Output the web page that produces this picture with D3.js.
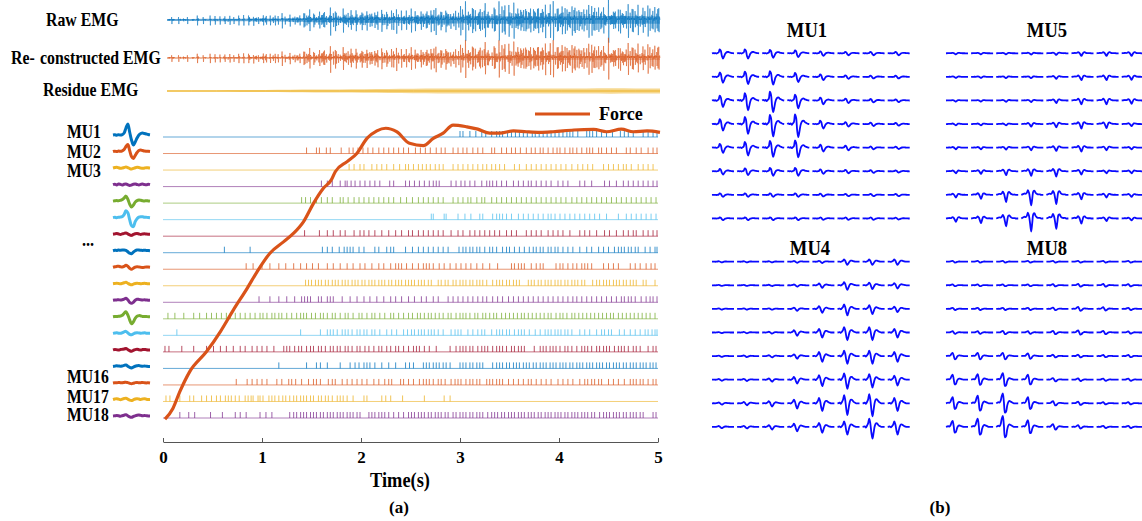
<!DOCTYPE html>
<html><head><meta charset="utf-8">
<script src="https://cdn.jsdelivr.net/npm/d3@7"></script>
<style>
body{margin:0;background:#fff}
svg{display:block}
text{font-family:"Liberation Serif","Times New Roman",serif;font-weight:bold;fill:#000}
</style>
</head><body>
<svg id="chart" width="1142" height="521"></svg>
<script>
// ---------------- DATA ----------------
const muNames = ["MU1","MU2","MU3","MU4","MU5","MU6","MU7","MU8","MU9","MU10","MU11","MU12","MU13","MU14","MU15","MU16","MU17","MU18"];
const palette = ["#0072BD","#D95319","#EDB120","#7E2F8E","#77AC30","#4DBEEE","#A2142F"];
const timeTicks = [0,1,2,3,4,5];

// force (normalised) vs time (s)
const forceTime = [0.02,0.10,0.17,0.27,0.44,0.58,0.71,0.85,0.95,1.08,1.22,1.32,1.42,1.52,1.62,1.70,1.74,1.86,1.96,2.06,2.16,2.25,2.36,2.49,2.63,2.73,2.83,2.93,3.07,3.18,3.30,3.40,3.54,3.67,3.81,3.94,4.15,4.35,4.48,4.63,4.75,4.89,5.02];
const forceValue = [0.003,0.040,0.098,0.167,0.236,0.305,0.379,0.454,0.511,0.575,0.615,0.644,0.684,0.747,0.799,0.828,0.856,0.891,0.920,0.971,0.997,1.006,0.994,0.954,0.946,0.971,0.989,1.017,1.011,1.003,0.989,0.989,0.997,0.994,0.992,0.994,1.000,1.002,0.994,1.003,0.994,0.997,0.992];

// spike times in units of 10 ms
const mu1Spikes = [300,303,310,316,322,326,332,337,340,343,348,352,356,360,364,368,373,376,380,384,388,392,396,400,404,408,411,414,419,428,431,434,438,443,448,454,462,466,470,475,485,490,495,499];
const mu2Spikes = [145,155,158,165,169,180,188,192,197,202,207,212,218,223,228,233,238,243,248,255,260,265,270,276,281,285,293,298,303,307,313,318,323,332,335,342,347,352,356,361,367,372,376,381,384,389,394,398,401,406,411,414,418,423,428,431,434,440,443,448,453,458,468,472,478,483,490,495,499];
const mu3Spikes = [188,193,199,203,211,216,221,226,233,239,245,248,253,258,262,266,270,275,279,283,293,298,303,308,313,318,323,327,332,336,340,345,355,360,367,372,377,382,387,392,397,402,407,413,419,424,429,434,445,450,455,460,465,468,473,480,485,490,495];
const mu4Spikes = [160,166,171,179,184,186,190,194,199,204,209,214,219,229,233,245,249,254,259,264,269,273,276,279,291,296,301,305,310,315,322,327,330,333,337,342,347,354,359,364,369,372,377,382,387,392,399,404,409,421,426,433,446,451,458,465,470,475,480,485,490,495,499];
const mu5Spikes = [140,144,149,155,160,166,171,179,182,187,193,198,203,208,213,218,223,228,233,240,246,252,258,263,268,273,278,283,293,298,303,308,311,317,322,325,332,337,342,347,352,357,362,367,372,377,382,387,392,397,402,407,413,418,423,428,433,438,443,448,453,458,463,468,473,478,483,488,493,498];
const mu6Spikes = [271,273,284,286,298,305,311,320,323,333,337,340,343,347,352,359,364,369,374,379,384,389,392,396,401,406,411,416,421,426,431,436,441,448,460,468,473,478,483,488,493,498];
const mu7Spikes = [143,158,166,172,179,184,193,199,203,208,214,221,228,235,241,248,252,258,263,268,273,278,283,291,298,303,310,315,320,325,330,335,340,347,352,357,367,372,377,382,389,394,399,404,411,421,426,431,438,446,451,458,465,470,475,478,485,490,495,499];
const mu8Spikes = [62,88,161,166,171,178,183,186,189,192,198,203,214,218,226,230,233,245,252,258,263,268,273,278,283,288,299,303,306,310,313,317,320,325,330,333,337,343,347,350,355,360,365,370,374,377,381,384,389,392,396,399,404,409,414,421,428,433,440,445,450,456,460,463,466,470,473,477,480,487,492,497,499];
const mu9Spikes = [84,91,100,108,117,124,132,139,145,151,157,166,172,179,186,192,199,204,211,218,223,230,235,238,241,246,252,258,263,266,269,273,279,284,290,296,301,306,311,317,323,330,338,352,355,359,362,365,372,377,381,384,397,401,404,409,414,418,423,426,429,433,445,450,455,460,472,477,482,488,493,497];
const mu10Spikes = [144,147,150,154,157,160,164,167,171,174,177,181,184,187,191,194,197,201,204,208,211,214,218,221,224,228,231,235,238,241,245,248,251,254,258,261,264,268,271,278,281,285,288,293,296,300,303,306,310,313,317,320,323,327,333,337,340,343,347,350,354,357,360,369,372,375,379,382,386,389,392,396,399,402,406,409,413,416,419,423,426,434,438,441,445,448,451,455,458,461,465,468,472,475,478,485,488,497];
const mu11Spikes = [97,108,117,125,133,140,143,146,149,157,160,166,169,172,181,189,196,203,209,216,223,230,235,241,248,254,261,266,273,278,288,293,298,303,308,313,318,323,327,333,338,343,349,354,359,364,369,374,379,384,389,394,399,404,409,414,418,423,428,433,438,443,448,453,458,463,466,470,473,477,483,488,492,495,499];
const mu12Spikes = [5,12,21,31,37,44,49,54,59,64,68,73,78,83,88,93,98,101,105,110,113,117,120,125,130,135,139,142,145,150,154,159,162,166,171,174,179,184,187,192,198,201,206,211,214,219,224,230,233,238,243,248,252,257,260,264,268,271,275,279,283,288,291,296,300,303,306,310,315,318,323,326,330,334,337,342,346,350,354,358,362,365,369,373,377,381,385,389,392,397,401,404,408,413,416,420,424,428,432,436,440,444,448,452,455,460,464,468,472,476,480,484,488,492,497];
const mu13Spikes = [14,139,159,166,169,172,176,181,184,187,191,196,199,203,206,211,214,219,226,231,236,243,247,251,254,258,261,264,268,271,274,278,283,291,295,298,301,308,313,318,322,325,332,337,340,343,347,350,355,359,362,365,370,376,381,386,389,392,396,399,402,406,409,413,421,426,431,438,443,446,450,453,461,466,472,477,482,487,490,494,497,499];
const mu14Spikes = [2,6,19,31,44,51,58,64,71,78,83,90,95,100,105,112,122,125,128,133,137,140,145,149,152,157,160,164,169,172,176,179,184,187,191,196,199,204,208,213,218,221,226,230,235,238,243,248,253,256,259,264,269,276,290,296,300,303,306,310,313,318,322,325,328,333,337,340,343,347,352,355,359,362,365,375,381,384,387,391,394,397,401,406,409,413,418,423,426,429,433,438,441,445,448,451,456,460,463,466,470,475,478,482,490,495,498];
const mu15Spikes = [117,145,155,159,166,179,189,194,198,203,206,209,214,221,228,235,245,249,253,263,266,269,273,276,279,283,286,290,300,303,306,310,313,317,320,323,333,337,340,343,347,350,354,357,360,364,367,370,374,377,381,384,387,391,394,397,401,404,407,411,414,418,421,424,428,431,434,438,441,444,448,451,455,458,461,465,468,472,475,478,482,485,488,492,495,498];
const mu16Spikes = [74,85,90,95,100,105,115,120,127,130,134,140,147,152,155,159,167,171,174,181,186,191,196,201,206,213,218,224,228,231,240,243,248,253,259,263,266,269,273,278,281,285,291,295,298,301,306,310,313,317,320,327,330,333,337,340,343,349,354,359,364,369,372,377,382,387,392,399,404,409,414,421,426,429,433,436,440,443,450,455,460,466,472,475,478,482,485,490,495,498];
const mu17Spikes = [3,7,17,27,31,39,44,49,54,58,63,66,69,73,77,83,86,89,91,96,98,101,107,110,113,117,121,124,128,132,135,139,142,145,149,152,157,160,164,167,171,176,179,182,186,192,203,206,221,225,230,242,264,284,290];
const mu18Spikes = [17,26,32,48,60,73,78,84,98,104,110,128,132,135,139,142,145,149,152,155,159,162,166,169,172,176,179,182,186,189,192,196,199,208,211,214,218,221,224,228,233,238,243,248,251,254,258,261,264,268,271,275,278,281,285,288,293,296,300,303,306,310,313,317,320,323,328,332,335,338,342,345,349,352,355,359,362,365,369,372,375,379,382,386,389,392,396,399,402,406,409,413,416,419,423,426,429,433,436,441,445,448,451,455,458,461,465,468,472,475,478,482,485,495,498];
const spikeTrains = [mu1Spikes,mu2Spikes,mu3Spikes,mu4Spikes,mu5Spikes,mu6Spikes,mu7Spikes,mu8Spikes,mu9Spikes,mu10Spikes,mu11Spikes,mu12Spikes,mu13Spikes,mu14Spikes,mu15Spikes,mu16Spikes,mu17Spikes,mu18Spikes];

// MU waveform templates (21 samples, 1 ms each)
const mu1Wave  = [0,0.2,-0.2,0.3,0,0.4,2,7,11,3,-5,-10,-7,-3,0,1.5,2,1.5,1,0.5,0.2];
const mu2Wave  = [0,0.4,0,0.5,0.2,0.6,2,5,7,1,-5,-7,-4,-1,1,1.5,1,0.5,0.3,0.2,0];
const mu3Wave  = [0,0.5,0.8,0.3,-0.3,0,0.6,1,0.5,-0.5,-1,-0.4,0.3,0.7,0.5,0,-0.3,0,0.4,0.2,0];
const mu4Wave  = [0,0.4,-0.3,0.5,0.2,-0.4,0.3,0.6,-0.2,-0.8,-0.4,0.3,0.6,0.1,-0.3,0.2,0.5,0,-0.2,0.3,0];
const mu5Wave  = [0,0.3,0.5,0.3,0.8,1.5,3,5,2,-3,-6,-4,-1,0.5,1,0.8,0.4,0.2,0.4,0.2,0];
const mu6Wave  = [0,0.3,0,0.4,0.6,1,3,7,5,-2,-8,-9,-4,-1,0.5,1,0.8,0.4,0.3,0.2,0];
const mu7Wave  = [0,0.3,0.6,0.2,-0.2,0.3,0.8,1.2,0.3,-0.8,-1.2,-0.3,0.4,0.6,0.2,-0.2,0.2,0.4,0.1,0,0];
const mu8Wave  = [0,0.4,0.3,0.6,0.5,0.6,0.8,0.4,-1,-2.5,-3,-1.5,0,0.8,0.7,0.5,0.3,0.5,0.3,0.2,0];
const mu9Wave  = [0,0.5,0.8,1,0.5,0.2,0.8,2,1,-1,-2,-1,0.2,0.5,0.3,0,-0.3,0,0.3,0.2,0];
const mu10Wave = [0,0.3,0.6,0.3,0,0.4,1,1.5,0.5,-0.5,-1,-0.3,0.3,0.6,0.3,0,0.3,0.5,0.2,0,0];
const mu11Wave = [0,0.3,0.4,0.5,0.3,0.6,1.2,2,0.5,-2,-3,-2,0,1,0.9,0.5,0.3,0.5,0.3,0.1,0];
const mu12Wave = [0,0.3,0.4,0.5,0.8,1.5,3.5,5,2,-3,-7,-5,-1.5,0.5,1.2,0.9,0.4,0.3,0.3,0.1,0];
const mu13Wave = [0,0.3,0.5,0.2,0,0.6,1.5,2,0.5,-1,-1.5,-0.5,0.3,0.6,0.4,0.1,0.3,0.5,0.2,0,0];
const mu14Wave = [0,0.4,0.2,-0.2,0.3,0.6,0.9,1.4,0.3,-0.8,-1.3,-0.4,0.3,0.6,0.2,-0.2,0.3,0.5,0.2,0,0];
const mu15Wave = [0,0.3,0.6,0.4,0.2,0.5,1,1.5,0.2,-1,-1.5,-0.6,0.2,0.6,0.8,0.4,0.2,0.4,0.2,0,0];
const mu16Wave = [0,0.3,0.2,0.5,0.3,0.2,0.5,0.8,0.3,-0.4,-0.8,-0.3,0.3,0.5,0.2,0.3,0.5,0.2,0,0.2,0];
const mu17Wave = [0,0.5,0.8,0.3,-0.2,0.4,1,1.3,0.4,-0.6,-1,-0.3,0.5,0.8,0.4,0,0.5,0.8,0.3,0,0];
const mu18Wave = [0,0.2,0.4,0.2,-0.2,0.3,0.8,1.3,0.2,-0.9,-1.3,-0.5,0.2,0.8,1,0.6,0.2,0.5,0.3,0.1,0];
const muWaves = [mu1Wave,mu2Wave,mu3Wave,mu4Wave,mu5Wave,mu6Wave,mu7Wave,mu8Wave,mu9Wave,mu10Wave,mu11Wave,mu12Wave,mu13Wave,mu14Wave,mu15Wave,mu16Wave,mu17Wave,mu18Wave];

// residue EMG envelope (every 0.25 s)
const residueTime = [0,0.25,0.5,0.75,1,1.25,1.5,1.75,2,2.25,2.5,2.75,3,3.25,3.5,3.75,4,4.25,4.5,4.75,5];
const residueEnv  = [0.8,0.9,1.0,1.1,1.3,1.5,1.8,2.0,2.3,2.5,2.8,3.0,3.0,3.2,3.1,3.0,3.2,3.1,3.3,3.2,3.2];

// panel (b): 8x8 electrode grids
const gridNames = ["MU1","MU5","MU4","MU8"];
const gridShapeMU1 = [0,0.05,0,0.05,-0.05,0.05,0.15,0.75,0.5,-0.5,-1.0,-0.6,-0.1,0.15,0.25,0.25,0.15,0.1,0.05,0.02,0];
const gridShapeMU5 = [0,0.05,0.1,0.15,0.1,0.2,0.45,0.2,-0.4,-1.0,-0.3,0.35,0.4,0.2,0.1,0.05,0.05,0.05,0,0,0];
const gridShapeMU4 = [0,0.02,0.05,-0.05,0.1,0.3,0.7,0.3,-0.5,-1.0,-0.5,0.05,0.3,0.3,0.2,0.1,0.05,0,0,0,0];
const gridShapeMU8 = [0,0.05,0.1,0.05,0.2,0.6,0.85,0.1,-0.8,-0.7,-0.2,0.1,0.2,0.15,0.1,0.05,0,0,0,0,0];
const gridAmpMU1 = [
 [0.40,0.40,0.35,0.30,0.20,0.15,0.15,0.15],
 [0.45,0.55,0.60,0.40,0.25,0.15,0.12,0.12],
 [0.50,0.75,0.90,0.60,0.30,0.20,0.15,0.12],
 [0.50,0.75,0.95,1.00,0.35,0.20,0.15,0.12],
 [0.40,0.60,0.70,0.75,0.30,0.20,0.12,0.10],
 [0.25,0.30,0.35,0.35,0.20,0.15,0.12,0.10],
 [0.15,0.15,0.15,0.15,0.12,0.10,0.10,0.10],
 [0.12,0.12,0.12,0.12,0.10,0.10,0.10,0.08]];
const gridAmpMU5 = [
 [0.08,0.08,0.08,0.10,0.12,0.20,0.20,0.20],
 [0.08,0.08,0.10,0.10,0.15,0.25,0.25,0.22],
 [0.08,0.08,0.10,0.12,0.20,0.30,0.30,0.25],
 [0.10,0.10,0.10,0.20,0.25,0.35,0.30,0.15],
 [0.12,0.12,0.15,0.20,0.25,0.30,0.20,0.12],
 [0.15,0.20,0.30,0.35,0.40,0.25,0.15,0.15],
 [0.20,0.30,0.55,0.80,0.70,0.35,0.20,0.15],
 [0.25,0.35,0.60,1.00,0.80,0.40,0.20,0.15]];
const gridAmpMU4 = [
 [0.05,0.05,0.05,0.08,0.10,0.25,0.25,0.25],
 [0.05,0.05,0.06,0.10,0.20,0.35,0.30,0.25],
 [0.05,0.05,0.06,0.15,0.30,0.50,0.40,0.25],
 [0.05,0.06,0.08,0.25,0.40,0.60,0.60,0.40],
 [0.06,0.08,0.10,0.20,0.45,0.60,0.60,0.45],
 [0.08,0.10,0.15,0.30,0.50,0.70,0.60,0.45],
 [0.10,0.15,0.25,0.40,0.60,0.90,1.00,0.60],
 [0.10,0.12,0.20,0.35,0.45,0.60,0.90,0.60]];
const gridAmpMU8 = [
 [0.08,0.08,0.08,0.08,0.08,0.08,0.08,0.08],
 [0.08,0.08,0.08,0.08,0.10,0.12,0.12,0.10],
 [0.10,0.10,0.10,0.10,0.12,0.18,0.15,0.10],
 [0.12,0.12,0.15,0.12,0.15,0.20,0.15,0.10],
 [0.30,0.30,0.30,0.25,0.12,0.12,0.10,0.10],
 [0.45,0.50,0.60,0.45,0.15,0.12,0.10,0.10],
 [0.55,0.70,0.90,0.55,0.20,0.15,0.10,0.10],
 [0.55,0.75,1.00,0.60,0.25,0.15,0.10,0.10]];

// ---------------- DRAW ----------------
const svg = d3.select("#chart");
const x = d3.scaleLinear([0,5],[163,658]);
const xe = d3.scaleLinear([0,5],[167,660]);
const rowY = d3.scalePoint(muNames,[137,418]);
const fy = d3.scaleLinear([0,1],[420,130]);
const color = i => palette[i % palette.length];

// text helper (reference text is a narrow Times face)
function lab(t,xx,yy,size,anchor,sx){
  return svg.append("text").attr("transform",`translate(${xx},${yy}) scale(${sx||1},1)`)
    .attr("font-size",size).attr("text-anchor",anchor||"start").text(t);
}

// EMG traces built from the spike trains and MU templates
const N = 5000;
const recon = new Float64Array(N+1);
spikeTrains.forEach((train,m)=>{
  const w = muWaves[m];
  train.forEach(cs=>{
    const c = Math.round(cs*10);
    w.forEach((v,j)=>{const k=c+j-10; if(k>=0&&k<=N) recon[k]+=v;});
  });
});
const reconArr = Array.from(recon);
function emgPath(y0,gain){
  return d3.line().x((d,i)=>xe(i/1000)).y(d=>y0-d*gain)(reconArr);
}
function band(y0,scale){
  return d3.area().x((d,i)=>xe(residueTime[i])).y0(d=>y0-d*scale).y1(d=>y0+d*scale).curve(d3.curveMonotoneX)(residueEnv);
}
// raw
svg.append("path").attr("d",band(20,1.2)).attr("fill","#0072BD").attr("opacity",0.45);
svg.append("path").attr("d",emgPath(20,0.58)).attr("fill","none").attr("stroke","#0072BD").attr("stroke-width",0.6).attr("opacity",0.9);
// reconstructed
svg.append("path").attr("d",band(58,0.6)).attr("fill","#D95319").attr("opacity",0.35);
svg.append("path").attr("d",emgPath(58,0.55)).attr("fill","none").attr("stroke","#D95319").attr("stroke-width",0.6).attr("opacity",0.9);
// residue
svg.append("path").attr("d",band(91,0.8)).attr("fill","#EDB120").attr("opacity",0.5);
svg.append("path").attr("d",d3.line().x(d=>xe(d)).y(91)(residueTime)).attr("stroke","#EDB120").attr("stroke-width",1).attr("fill","none");

lab("Raw EMG",46,26,18,"start",0.88);
lab("Re-",11,64,18,"start",0.88);
lab("constructed EMG",40,64,18,"start",0.88);
lab("Residue EMG",43,96,18,"start",0.88);

// spike raster
const rows = svg.append("g");
const ix = d3.scaleLinear([0,20],[113,150]);
muNames.forEach((name,i)=>{
  const y = rowY(name);
  rows.append("line").attr("x1",x(0)).attr("x2",x(5)).attr("y1",y).attr("y2",y)
    .attr("stroke",color(i)).attr("stroke-width",1).attr("opacity",0.6);
  rows.append("g").selectAll("line").data(spikeTrains[i]).join("line")
    .attr("x1",d=>x(d/100)).attr("x2",d=>x(d/100)).attr("y1",y-6).attr("y2",y)
    .attr("stroke",color(i)).attr("stroke-width",1).attr("opacity",0.75);
  svg.append("path").attr("d",d3.line().x((d,j)=>ix(j)).y(d=>y-2-d).curve(d3.curveCatmullRom)(muWaves[i]))
    .attr("fill","none").attr("stroke",color(i)).attr("stroke-width",3).attr("stroke-linejoin","round");
});
// MU labels
const labelShift = {MU1:1,MU2:4.5,MU3:7,MU16:-1.5,MU17:1.5,MU18:3};
Object.keys(labelShift).forEach(n=>lab(n,67,rowY(n)+labelShift[n],18,"start",0.87));
lab("...",82,246,18,"start",0.9);

// axis
const ax = svg.append("g").attr("transform","translate(0,442)")
  .call(d3.axisBottom(x).tickValues(timeTicks).tickSizeInner(-4).tickSizeOuter(0).tickPadding(9).tickFormat(d3.format("d")));
ax.select(".domain").attr("stroke","#555");
ax.selectAll(".tick line").attr("stroke","#555");
ax.selectAll("text").attr("font-size",17).attr("font-family","Liberation Serif, serif").attr("font-weight","bold").attr("fill","#000");
lab("Time(s)",400,487,20,"middle",0.92);
lab("(a)",399,513,17,"middle");

// force
svg.append("path").attr("d",d3.line().x((d,i)=>x(forceTime[i])).y(d=>fy(d)).curve(d3.curveMonotoneX)(forceValue))
  .attr("fill","none").attr("stroke","#D95319").attr("stroke-width",3.2).attr("stroke-linejoin","round");
svg.append("line").attr("x1",535).attr("x2",590).attr("y1",114).attr("y2",114).attr("stroke","#D95319").attr("stroke-width",3);
lab("Force",599,120,18);

// panel (b)
const gridShapes = {MU1:gridShapeMU1,MU5:gridShapeMU5,MU4:gridShapeMU4,MU8:gridShapeMU8};
const gridAmps = {MU1:gridAmpMU1,MU5:gridAmpMU5,MU4:gridAmpMU4,MU8:gridAmpMU8};
const gridPos = {MU1:[712,53.3,807,37],MU5:[946,53.3,1047,37],MU4:[712,261.7,810,255],MU8:[946,261.7,1047,255]};
const sx = d3.scaleLinear([0,20],[0,22]);
gridNames.forEach(g=>{
  const [x0,y0,tx,ty] = gridPos[g];
  const cx = d3.scaleLinear([0,7],[x0,x0+7*25.1]);
  const cy = d3.scaleLinear([0,7],[y0,y0+7*23.6]);
  const gg = svg.append("g");
  gridAmps[g].forEach((row,r)=>row.forEach((a,c)=>{
    gg.append("path").attr("d",d3.line().x((d,j)=>cx(c)+sx(j)).y(d=>cy(r)-d*a*13).curve(d3.curveCatmullRom)(gridShapes[g]))
      .attr("fill","none").attr("stroke","#0a0aff").attr("stroke-width",1.8);
  }));
  lab(g,tx,ty,20,"middle",0.93);
});
lab("(b)",940,513,17,"middle");
</script>
</body></html>
